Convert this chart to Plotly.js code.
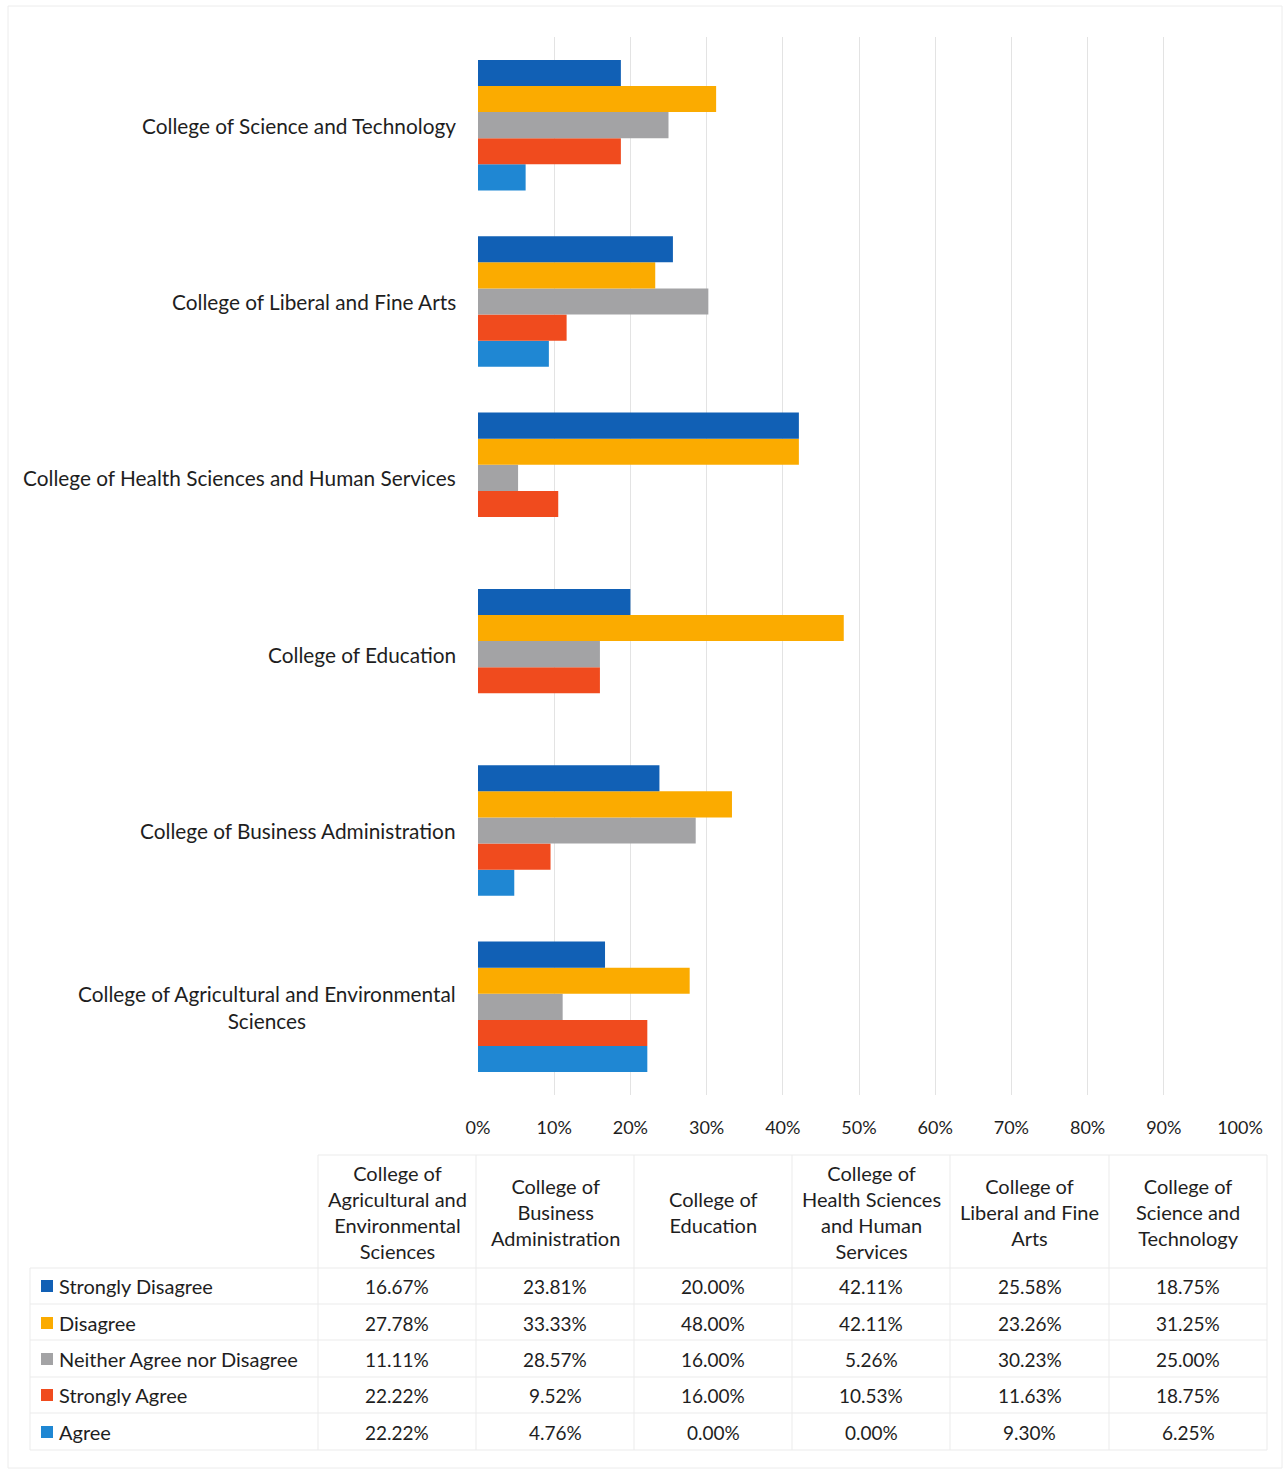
<!DOCTYPE html>
<html>
<head>
<meta charset="utf-8">
<script src="https://cdn.plot.ly/plotly-3.0.1.min.js"></script>
<style>
  html, body { margin: 0; padding: 0; background: #ffffff; }
  #chart { width: 1287px; height: 1474px; }
</style>
</head>
<body>
<div id="chart"></div>
<script>
// ---------- DATA ----------
const categories = [
  'College of Agricultural and Environmental Sciences',
  'College of Business Administration',
  'College of Education',
  'College of Health Sciences and Human Services',
  'College of Liberal and Fine Arts',
  'College of Science and Technology'
];
const categoryLabels = [
  'College of Agricultural and Environmental<br>Sciences',
  'College of Business Administration',
  'College of Education',
  'College of Health Sciences and Human Services',
  'College of Liberal and Fine Arts',
  'College of Science and Technology'
];
const tableHeaders = [
  'College of<br>Agricultural and<br>Environmental<br>Sciences',
  'College of<br>Business<br>Administration',
  'College of<br>Education',
  'College of<br>Health Sciences<br>and Human<br>Services',
  'College of<br>Liberal and Fine<br>Arts',
  'College of<br>Science and<br>Technology'
];
const seriesNames = ['Strongly Disagree', 'Disagree', 'Neither Agree nor Disagree', 'Strongly Agree', 'Agree'];
const stronglyDisagree = [16.67, 23.81, 20.00, 42.11, 25.58, 18.75];
const disagree         = [27.78, 33.33, 48.00, 42.11, 23.26, 31.25];
const neither          = [11.11, 28.57, 16.00, 5.26, 30.23, 25.00];
const stronglyAgree    = [22.22, 9.52, 16.00, 10.53, 11.63, 18.75];
const agree            = [22.22, 4.76, 0.00, 0.00, 9.30, 6.25];
const xTickValues = [0, 10, 20, 30, 40, 50, 60, 70, 80, 90, 100];

const seriesValues = [stronglyDisagree, disagree, neither, stronglyAgree, agree];
const seriesColors = ['#1160b5', '#fbab00', '#a3a3a5', '#f04b1e', '#1f87d3'];

// ---------- LAYOUT GEOMETRY ----------
const W = 1287, H = 1474;
const L = 478, R = 1240, T = 37, B = 1095;
const px = x => (x - L) / (R - L);
const py = y => (B - y) / (B - T);
const FONT = 'Lato, "Open Sans", sans-serif';
const TXT = '#1e1e1e';

// traces: reverse order so Strongly Disagree sits on top of each group
const traces = [];
for (let i = seriesNames.length - 1; i >= 0; i--) {
  traces.push({
    type: 'bar',
    orientation: 'h',
    name: seriesNames[i],
    y: categories,
    x: seriesValues[i],
    marker: { color: seriesColors[i] },
    showlegend: false,
    hovertemplate: '%{y}<br>' + seriesNames[i] + ': %{x:.2f}%<extra></extra>'
  });
}

const annotations = [];
const shapes = [];

// category labels (centered multi-line, right anchored)
categories.forEach((c, i) => {
  annotations.push({
    xref: 'paper', yref: 'y', x: px(458), y: c,
    xanchor: 'right', yanchor: 'middle', align: 'center',
    text: categoryLabels[i], showarrow: false,
    font: { family: FONT, size: 20.8, color: TXT }
  });
});

// data table
const colEdges = [318, 476, 634, 792, 950, 1109, 1267];
const headerY = 1212;
const rowY = [1286, 1323, 1359, 1395, 1432];
const rowLines = [1304, 1340, 1377, 1413, 1450];
const lineColor = '#ebebeb';

tableHeaders.forEach((h, j) => {
  const cx = (colEdges[j] + colEdges[j + 1]) / 2;
  annotations.push({
    xref: 'paper', yref: 'paper', x: px(cx), y: py(headerY),
    xanchor: 'center', yanchor: 'middle', align: 'center',
    text: h, showarrow: false,
    font: { family: FONT, size: 20, color: TXT }
  });
  seriesValues.forEach((vals, r) => {
    annotations.push({
      xref: 'paper', yref: 'paper', x: px(cx), y: py(rowY[r]),
      xanchor: 'center', yanchor: 'middle',
      text: vals[j].toFixed(2) + '%', showarrow: false,
      font: { family: FONT, size: 19, color: TXT }
    });
  });
});

seriesNames.forEach((n, r) => {
  annotations.push({
    xref: 'paper', yref: 'paper', x: px(57), y: py(rowY[r]),
    xanchor: 'left', yanchor: 'middle',
    text: n, showarrow: false,
    font: { family: FONT, size: 20, color: TXT }
  });
  shapes.push({
    type: 'rect', xref: 'paper', yref: 'paper',
    x0: px(41), x1: px(53), y0: py(rowY[r] - 6), y1: py(rowY[r] + 6),
    fillcolor: seriesColors[r], line: { width: 0 }
  });
});

// table grid lines
colEdges.forEach(x => {
  shapes.push({
    type: 'line', xref: 'paper', yref: 'paper',
    x0: px(x), x1: px(x), y0: py(1155), y1: py(1450),
    line: { color: lineColor, width: 1 }
  });
});
shapes.push({
  type: 'line', xref: 'paper', yref: 'paper',
  x0: px(318), x1: px(1267), y0: py(1155), y1: py(1155),
  line: { color: lineColor, width: 1 }
});
[1268].concat(rowLines).forEach(y => {
  shapes.push({
    type: 'line', xref: 'paper', yref: 'paper',
    x0: px(30), x1: px(1267), y0: py(y), y1: py(y),
    line: { color: lineColor, width: 1 }
  });
});
shapes.push({
  type: 'line', xref: 'paper', yref: 'paper',
  x0: px(30), x1: px(30), y0: py(1268), y1: py(1450),
  line: { color: lineColor, width: 1 }
});
// outer chart border
shapes.push({
  type: 'rect', xref: 'paper', yref: 'paper',
  x0: px(8), x1: px(1282), y0: py(6), y1: py(1468),
  line: { color: '#ececec', width: 1 }, fillcolor: 'rgba(0,0,0,0)'
});

const layout = {
  width: W, height: H,
  margin: { l: L, r: W - R, t: T, b: H - B, pad: 0 },
  paper_bgcolor: '#ffffff',
  plot_bgcolor: '#ffffff',
  barmode: 'group',
  bargap: 0.26,
  bargroupgap: 0,
  font: { family: FONT, color: TXT },
  xaxis: {
    range: [0, 100],
    tickvals: xTickValues,
    ticktext: xTickValues.map(v => v + '%'),
    showgrid: true, gridcolor: '#e3e3e3', gridwidth: 1,
    zeroline: false, showline: false, ticks: '',
    ticklabelstandoff: 20,
    tickfont: { family: FONT, size: 18, color: TXT },
    fixedrange: true
  },
  yaxis: {
    type: 'category',
    categoryorder: 'array', categoryarray: categories,
    showticklabels: false, showgrid: false, zeroline: false, showline: false,
    ticks: '', fixedrange: true
  },
  annotations: annotations,
  shapes: shapes
};

Plotly.newPlot('chart', traces, layout, { displayModeBar: false, staticPlot: true });
</script>
</body>
</html>
